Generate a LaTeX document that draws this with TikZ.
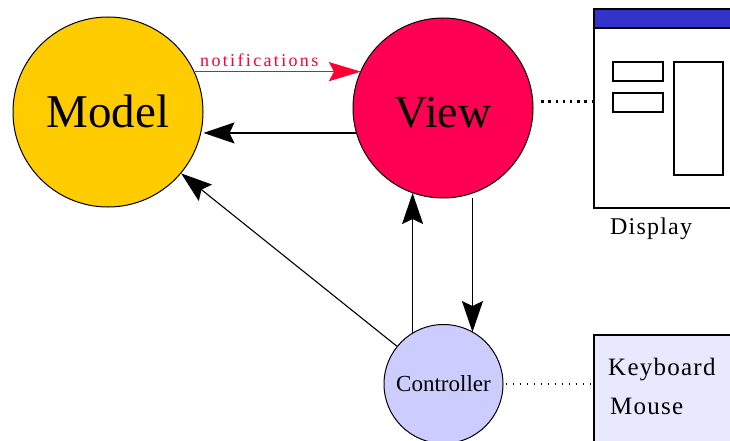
\documentclass[tikz,border=0pt]{standalone}
\usepackage{fontspec}
\setmainfont{Liberation Serif}
\newfontfamily\spaced[LetterSpace=5]{Liberation Serif}
\newfontfamily\spacedn[LetterSpace=13]{Liberation Serif}
\usetikzlibrary{arrows.meta}
\definecolor{modelc}{RGB}{255,204,0}
\definecolor{viewc}{RGB}{255,0,85}
\definecolor{ctrlc}{RGB}{204,204,255}
\definecolor{notec}{RGB}{255,0,51}
\definecolor{barblue}{RGB}{51,51,204}
\definecolor{kbfill}{RGB}{232,232,255}
\tikzset{
  circ/.style={circle, draw=black, line width=1pt, inner sep=0pt, text depth=0pt},
  bigarrow/.style={line width=1.5pt, -{Stealth[length=31pt,width=21pt,inset=5pt]}},
  notearrow/.style={draw=notec, line width=1.5pt, -{Stealth[length=32pt,width=19pt,inset=5pt]}},
  dots/.style={line width=2.4pt, dash pattern=on 2.4pt off 4.8pt},
  thindots/.style={line width=1.2pt, dash pattern=on 1.2pt off 5.8pt},
  lab/.style={inner sep=0pt, anchor=base west}
}
\begin{document}
\begin{tikzpicture}[x=1pt,y=-1pt]
\useasboundingbox (0,0) rectangle (730,441);
\clip (0,0) rectangle (730,441);
\fill[white] (0,0) rectangle (730,441);

% circles
\node[circ, fill=modelc, minimum size=190pt, text height=32pt,
      font=\fontsize{47}{47}\selectfont] (model) at (108,112) {Model};
\node[circ, fill=viewc, minimum size=180pt, text height=40pt,
      font=\fontsize{46}{46}\selectfont] (view) at (443,108) {View};
\node[circ, fill=ctrlc, minimum size=119pt, text height=14pt,
      font=\fontsize{23}{23}\selectfont] (ctrl) at (443.5,384) {Controller};

% display window
\fill[barblue] (593,8) rectangle (780,28);
\node[draw, line width=2pt, minimum width=187pt, minimum height=199pt,
      anchor=north west, inner sep=0pt] (display) at (593,8) {};
\draw[line width=1.5pt] (593,28) -- (780,28);
\draw[line width=1.5pt] (613,62) rectangle (663,81);
\draw[line width=1.5pt] (613,93) rectangle (663,112);
\draw[line width=1.5pt] (674,62) rectangle (723,175);
\node[lab, font=\spaced\fontsize{24}{24}\selectfont] (displaytext) at (610,234) {Display};

% keyboard / mouse box
\node[draw, fill=kbfill, line width=1.5pt, minimum width=187pt, minimum height=130pt,
      anchor=north west, inner sep=0pt] (kb) at (593,334) {};
\node[lab, font=\spaced\fontsize{25}{25}\selectfont] (kbtext) at (608,375) {Keyboard};
\node[lab, font=\spaced\fontsize{25}{25}\selectfont] (mousetext) at (610,414) {Mouse};

% connectors
\draw[notearrow] (model.25.8) -- (model.25.8 -| view.155.5);
\node[lab, text=notec, font=\spacedn\fontsize{18}{18}\selectfont] (notetext) at (200,66.5) {notifications};
\draw[bigarrow] (view.196.8) -- (view.196.8 -| model.east);
\draw[bigarrow, line width=1.1pt] (ctrl.141.3) -- (model.-40.6);
\draw[bigarrow] (ctrl.121) -- (ctrl.121 |- view.250.5);
\draw[bigarrow, shorten <=4pt] (view.289.5) -- (view.289.5 |- ctrl.60.3);

\draw[dots, shorten <=8pt] (view.4) -- (view.4 -| display.west);
\draw[thindots, shorten <=2pt, shorten >=3pt] (ctrl.east) -- (ctrl.east -| kb.west);
\end{tikzpicture}
\end{document}
